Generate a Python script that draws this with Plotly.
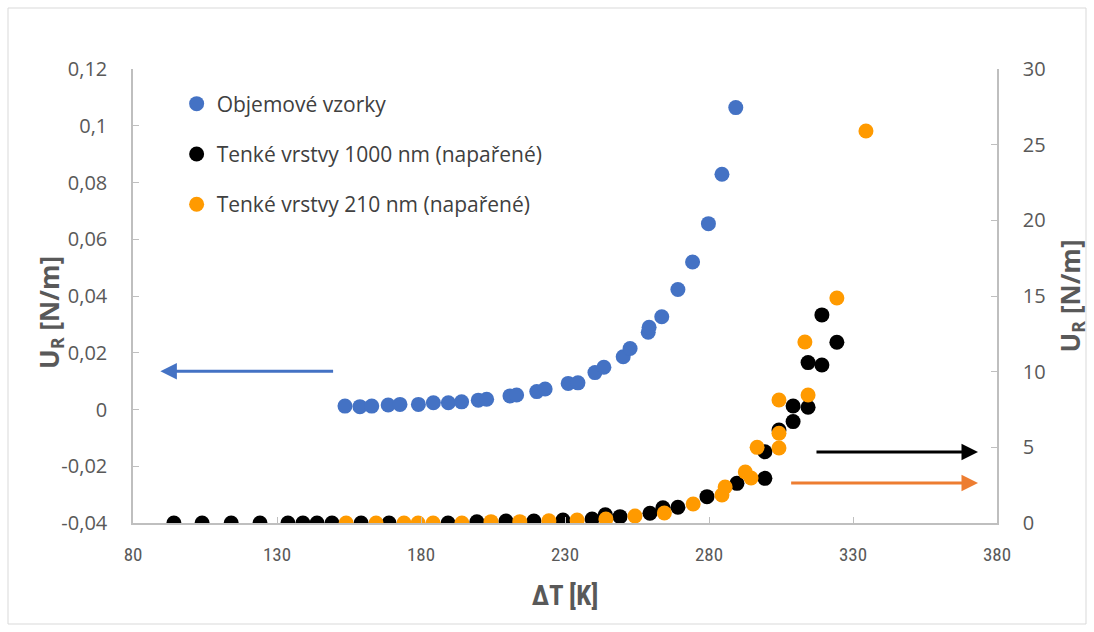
import plotly.graph_objects as go

# Bulk samples (left axis)
bulk_dT = [153.6, 158.8, 162.9, 168.6, 172.7, 179.1, 184.3, 189.5, 194.1, 199.9,
           202.8, 210.9, 213.2, 220.2, 223.1, 231.1, 234.5, 240.4, 243.5, 250.2,
           252.6, 258.9, 259.2, 263.6, 269.2, 274.3, 279.8, 284.5, 289.3]
bulk_U = [0.0012, 0.0010, 0.0012, 0.0016, 0.0018, 0.0018, 0.0024, 0.0024, 0.0027, 0.0033,
          0.0036, 0.0048, 0.0051, 0.0063, 0.0072, 0.0092, 0.0094, 0.0130, 0.0149, 0.0186,
          0.0215, 0.0272, 0.0290, 0.0327, 0.0423, 0.0520, 0.0655, 0.0829, 0.1064]

# Thin films 1000 nm (right axis)
film1000_dT = [94.2, 104.0, 114.1, 124.1, 133.8, 139.0, 143.9, 149.1, 159.2, 168.9,
               189.4, 199.4, 209.5, 219.2, 229.3, 239.4, 244.0, 249.1, 259.5, 264.0,
               269.2, 279.3, 289.7, 299.4, 299.4, 304.3, 309.2, 309.2, 314.4, 314.4,
               319.2, 319.2, 324.4]
film1000_U = [0, 0, 0, 0, 0, 0, 0, 0, 0, 0,
              0, 0.08, 0.13, 0.13, 0.20, 0.26, 0.55, 0.42, 0.64, 1.00,
              1.04, 1.74, 2.62, 2.95, 4.71, 6.15, 6.70, 7.73, 7.65, 10.60,
              10.44, 13.75, 11.94]

# Thin films 210 nm (right axis)
film210_dT = [154.0, 164.4, 174.1, 179.0, 184.2, 194.2, 204.3, 214.3, 224.4, 234.2,
              244.2, 254.3, 264.5, 274.5, 284.5, 285.6, 292.6, 294.6, 296.7, 304.3,
              304.3, 304.3, 313.3, 314.4, 324.4, 334.5]
film210_U = [0, 0, 0, 0, 0, 0, 0.09, 0.09, 0.15, 0.20,
             0.26, 0.46, 0.66, 1.26, 1.85, 2.38, 3.37, 2.97, 5.00, 4.96,
             5.93, 8.13, 11.96, 8.46, 14.87, 25.90]

left_ticks = [-0.04, -0.02, 0, 0.02, 0.04, 0.06, 0.08, 0.1, 0.12]
left_labels = ["-0,04", "-0,02", "0", "0,02", "0,04", "0,06", "0,08", "0,1", "0,12"]
x_ticks = [80, 130, 180, 230, 280, 330, 380]
right_ticks = [0, 5, 10, 15, 20, 25, 30]

AXIS = "#BFBFBF"
TXT = "#595959"
FONT = "Open Sans, Liberation Sans, sans-serif"
NARROW = "Liberation Sans Narrow, Roboto Condensed, Liberation Sans, sans-serif"

fig = go.Figure()
fig.add_trace(go.Scatter(x=bulk_dT, y=bulk_U, mode="markers", name="Objemové vzorky",
                         legendgroup="a",
                         marker=dict(color="#4472C4", size=15, line=dict(width=0))))
fig.add_trace(go.Scatter(x=film1000_dT, y=film1000_U, mode="markers", yaxis="y2",
                         name="Tenké vrstvy 1000 nm (napařené)", legendgroup="b",
                         marker=dict(color="#000000", size=15, line=dict(width=0))))
fig.add_trace(go.Scatter(x=film210_dT, y=film210_U, mode="markers", yaxis="y2",
                         name="Tenké vrstvy 210 nm (napařené)", legendgroup="c",
                         marker=dict(color="#FF9A00", size=15, line=dict(width=0))))

# Arrows pointing to the axis each series belongs to
arrows = [
    dict(x=89.5, y=0.0135, ax=150.0, ay=0.0135, xref="x", yref="y", axref="x", ayref="y",
         arrowcolor="#4472C4"),
    dict(x=373.4, y=4.69, ax=316.8, ay=4.69, xref="x", yref="y2", axref="x", ayref="y2",
         arrowcolor="#000000"),
    dict(x=373.4, y=2.64, ax=308.0, ay=2.64, xref="x", yref="y2", axref="x", ayref="y2",
         arrowcolor="#ED7D31"),
]
for a in arrows:
    fig.add_annotation(text="", showarrow=True, arrowhead=2, arrowsize=1.1,
                       arrowwidth=3, standoff=0, **a)

# Left axis title, set slightly below the axis centre
fig.add_annotation(text="<b>U<sub>R</sub> [N/m]</b>", textangle=-90, showarrow=False,
                   xref="paper", yref="paper", x=(50 - 133) / 864, y=(523 - 313) / 454,
                   xanchor="center", yanchor="middle",
                   font=dict(family=FONT, size=26, color=TXT))

fig.update_layout(
    width=1094, height=632,
    margin=dict(l=133, r=97, t=69, b=109),
    paper_bgcolor="white", plot_bgcolor="white",
    font=dict(family=FONT, color=TXT, size=20),
    showlegend=True,
    legend=dict(x=0.0505, y=0.968, xanchor="left", yanchor="top",
                bgcolor="rgba(0,0,0,0)", tracegroupgap=20, traceorder="grouped",
                font=dict(family=FONT, size=21, color="#404040"),
                itemwidth=30),
    xaxis=dict(range=[80, 380], tickvals=x_ticks, ticktext=[str(v) for v in x_ticks],
               showgrid=False, zeroline=False, showline=True, linecolor=AXIS, linewidth=1.5,
               ticks="inside", ticklen=6, tickcolor=AXIS, ticklabelstandoff=13,
               tickfont=dict(family=NARROW, size=19, color=TXT),
               title=dict(text="<b>ΔT [K]</b>", standoff=22,
                          font=dict(family=NARROW, size=27, color=TXT))),
    yaxis=dict(range=[-0.04, 0.12], tickvals=left_ticks, ticktext=left_labels,
               showgrid=False, zeroline=False, showline=True, linecolor=AXIS, linewidth=1.5,
               ticks="inside", ticklen=6, tickcolor=AXIS, ticklabelstandoff=20,
               tickfont=dict(family=FONT, size=20, color=TXT)),
    yaxis2=dict(range=[0, 30], tickvals=right_ticks, overlaying="y", side="right",
                showgrid=False, zeroline=False, showline=True, linecolor=AXIS, linewidth=1.5,
                ticks="inside", ticklen=6, tickcolor=AXIS, ticklabelstandoff=20,
                tickfont=dict(family=FONT, size=20, color=TXT),
                title=dict(text="<b>U<sub>R</sub> [N/m]</b>", standoff=17,
                           font=dict(family=FONT, size=26, color=TXT))),
)

# Chart-area frame
fig.add_shape(type="rect", xref="paper", yref="paper",
              x0=(8 - 133) / 864, x1=(1086 - 133) / 864,
              y0=(523 - 624) / 454, y1=(523 - 8) / 454,
              line=dict(color="#D9D9D9", width=1), fillcolor="rgba(0,0,0,0)", layer="below")

fig.write_html("out.html")
